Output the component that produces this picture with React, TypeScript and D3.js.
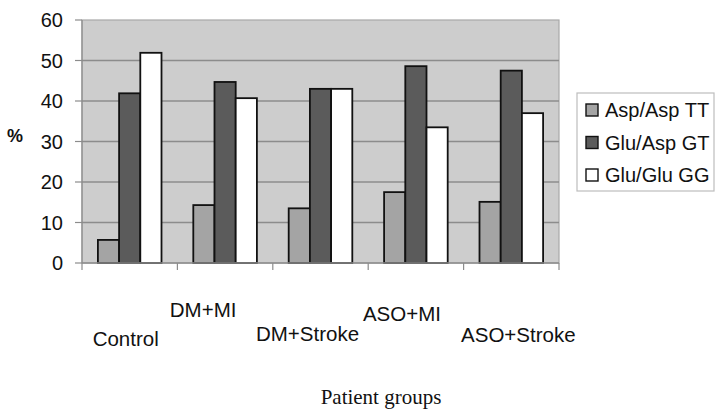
import React from "react";
import * as d3 from "d3";

const categories = ["Control", "DM+MI", "DM+Stroke", "ASO+MI", "ASO+Stroke"];
const seriesNames = ["Asp/Asp TT", "Glu/Asp GT", "Glu/Glu GG"];
const aspAspTT = [5.7, 14.3, 13.5, 17.5, 15.1];
const gluAspGT = [41.9, 44.7, 43.0, 48.6, 47.5];
const gluGluGG = [51.9, 40.7, 43.0, 33.5, 37.0];
const yTicks = [0, 10, 20, 30, 40, 50, 60];

const seriesValues = [aspAspTT, gluAspGT, gluGluGG];
const seriesFill = ["#a4a4a4", "#5b5b5b", "#ffffff"];

// layout (styling) constants
const W = 720;
const H = 413;
const plot = { left: 82, right: 559, top: 20, bottom: 263 };
const labelDx = [-4, -22, -13, -14, 7];
const labelBaseline = [346, 317, 341, 321, 342];
const FONT = "'Liberation Sans', Arial, Helvetica, sans-serif";

export default function App() {
  const x0 = d3.scaleBand<string>().domain(categories).range([plot.left, plot.right]).padding(0);
  const bw = x0.bandwidth();
  const barW = bw / 4.5;
  const groupOffset = (bw - 3 * barW) / 2;
  const x1 = d3.scaleBand<string>().domain(seriesNames).range([0, 3 * barW]).padding(0);
  const y = d3.scaleLinear().domain([0, 60]).range([plot.bottom, plot.top]);

  const boundaries = categories.map((c) => x0(c) as number).concat([plot.right]);

  return (
    <svg
      width={W}
      height={H}
      style={{ position: "fixed", left: 0, top: 0, background: "#fff" }}
      fontFamily={FONT}
    >
      <rect x={0} y={0} width={W} height={H} fill="#fff" />
      <rect
        x={plot.left}
        y={plot.top}
        width={plot.right - plot.left}
        height={plot.bottom - plot.top}
        fill="#cdcdcd"
        stroke="#a8a8a8"
        strokeWidth={1.2}
      />
      {yTicks.filter((t) => t > 0 && t < 60).map((t) => (
        <line
          key={"g" + t}
          x1={plot.left}
          x2={plot.right}
          y1={y(t)}
          y2={y(t)}
          stroke="#8c8c8c"
          strokeWidth={1.3}
        />
      ))}
      <line x1={plot.left} x2={plot.left} y1={plot.top} y2={plot.bottom} stroke="#8c8c8c" strokeWidth={1.2} />
      {yTicks.map((t) => (
        <g key={"yt" + t}>
          <line x1={plot.left - 7} x2={plot.left} y1={y(t)} y2={y(t)} stroke="#8c8c8c" strokeWidth={1.2} />
          <text x={63} y={y(t)} dy="0.36em" textAnchor="end" fontSize={20} fill="#111">
            {t}
          </text>
        </g>
      ))}
      {categories.map((c, ci) => (
        <g key={c} transform={`translate(${(x0(c) as number) + groupOffset},0)`}>
          {seriesNames.map((s, si) => {
            const v = seriesValues[si][ci];
            return (
              <rect
                key={s}
                x={x1(s) as number}
                y={y(v)}
                width={x1.bandwidth()}
                height={y(0) - y(v)}
                fill={seriesFill[si]}
                stroke="#111"
                strokeWidth={1.8}
              />
            );
          })}
        </g>
      ))}
      <line x1={plot.left} x2={plot.right} y1={plot.bottom} y2={plot.bottom} stroke="#8c8c8c" strokeWidth={1.3} />
      {boundaries.map((b, i) => (
        <line key={"xt" + i} x1={b} x2={b} y1={plot.bottom} y2={plot.bottom + 7} stroke="#8c8c8c" strokeWidth={1.2} />
      ))}
      {categories.map((c, ci) => (
        <text
          key={"cl" + c}
          x={(x0(c) as number) + bw / 2 + labelDx[ci]}
          y={labelBaseline[ci]}
          textAnchor="middle"
          fontSize={20.5}
          fill="#111"
        >
          {c}
        </text>
      ))}
      <text x={15} y={136} dy="0.36em" textAnchor="middle" fontSize={18} fontWeight="bold" fill="#111">
        %
      </text>
      <text x={381} y={404} textAnchor="middle" fontSize={21} fontFamily="'Liberation Serif', 'Times New Roman', serif" fill="#111">
        Patient groups
      </text>
      <rect x={577} y={93} width={137} height={98} fill="#fff" stroke="#bdbdbd" strokeWidth={1.2} />
      {seriesNames.map((s, si) => (
        <g key={"lg" + s} transform={`translate(586,${110 + si * 32.5})`}>
          <rect x={0} y={-6} width={12} height={12} fill={seriesFill[si]} stroke="#111" strokeWidth={1.4} />
          <text x={19} y={0} dy="0.36em" fontSize={20} fill="#111">
            {s}
          </text>
        </g>
      ))}
    </svg>
  );
}
